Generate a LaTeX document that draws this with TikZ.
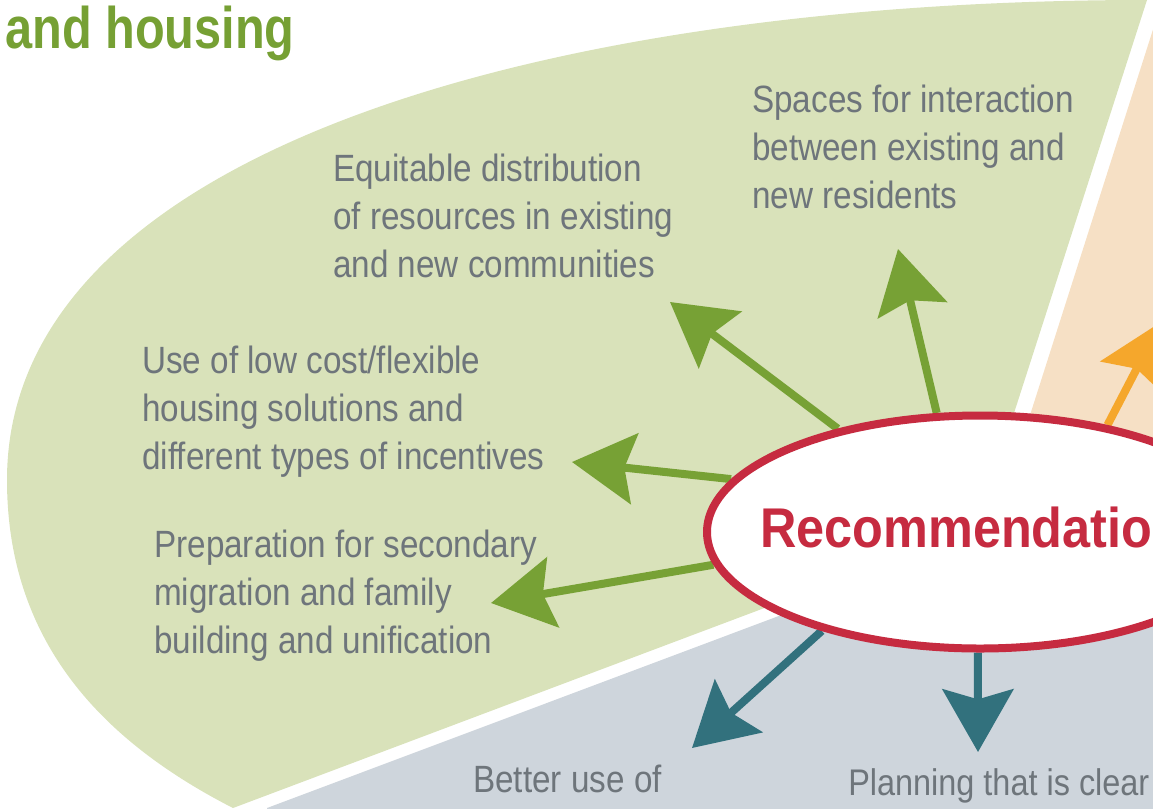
\documentclass[tikz,border=0pt]{standalone}
\usepackage{fontspec}
\usetikzlibrary{arrows.meta,shapes.geometric}
\newfontfamily\bodyf[FakeStretch=0.875]{Liberation Sans}
\newfontfamily\headf[FakeStretch=0.83]{Liberation Sans Bold}
\newfontfamily\recf[FakeStretch=0.9]{Liberation Sans Bold}
\definecolor{lgreen}{HTML}{D9E2BA}
\definecolor{lorange}{HTML}{F6E0C5}
\definecolor{lgray}{HTML}{CED5DC}
\definecolor{agreen}{HTML}{77A135}
\definecolor{ateal}{HTML}{32717D}
\definecolor{aorange}{HTML}{F5A72C}
\definecolor{ered}{HTML}{C62B40}
\definecolor{tgray}{HTML}{6E757B}
\definecolor{tgreen}{HTML}{76A034}
\pgfdeclarelayer{bg}
\pgfdeclarelayer{arr}
\pgfsetlayers{bg,arr,main}
\begin{document}
\begin{tikzpicture}[x=0.75pt,y=-0.75pt,
  headtip/.style={-{Stealth[length=47pt,width=53pt,inset=7.5pt]}},
  garrow/.style={draw=agreen,fill=agreen,line width=6pt,headtip},
  tarrow/.style={draw=ateal,fill=ateal,line width=6pt,headtip},
  oarrow/.style={draw=aorange,fill=aorange,line width=6pt,headtip},
  txt/.style={anchor=north west,inner sep=0pt,align=left,text=tgray,font=\bodyf\fontsize{28.5}{36}\selectfont}]
\useasboundingbox (0,0) rectangle (1153,808);
\node[ellipse,draw=ered,line width=6pt,fill=white,minimum width=409.5pt,minimum height=174.75pt,inner sep=0pt] (ell) at (980,532) {};
\node[anchor=base west,inner sep=0pt,text=ered,font=\recf\fontsize{42}{50}\selectfont] (rec) at (760,547) {Recommendatio};
\node[anchor=base west,inner sep=0pt,text=tgreen,font=\headf\fontsize{44}{52}\selectfont] (title) at (5,48) {and housing};
\coordinate (tSp) at (898,249);
\coordinate (tEq) at (670,302);
\coordinate (tUse) at (572,462);
\coordinate (tPrep) at (491,603);
\coordinate (tBet) at (692,748);
\coordinate (tPlan) at (978,752);
\coordinate (tOr) at (1161,322);
\begin{pgfonlayer}{bg}
\clip (0,0) rectangle (1153,808);
\fill[lgreen] (1147,0) .. controls (550,0) and (7,150) .. (7,480)
  .. controls (7,640) and (100,740) .. (233,808) -- (977,528) -- cycle;
\fill[lorange] (1164,-5) -- (994,528) -- (1170,600) -- (1170,-5) -- cycle;
\fill[lgray] (267,808) -- (1000,533) -- (1170,560) -- (1170,820) -- (267,820) -- cycle;
\end{pgfonlayer}
\begin{pgfonlayer}{arr}
\clip (0,0) rectangle (1153,808);
\draw[garrow] (ell.110) -- (tSp);
\draw[garrow] (ell.144) -- (tEq);
\draw[garrow] (ell.168.8) -- (tUse);
\draw[garrow] (ell.187.7) -- (tPrep);
\draw[tarrow] (ell.212) -- (tBet);
\draw[tarrow] (ell.269) -- (tPlan);
\draw[oarrow] (ell.40.6) -- (tOr);
\end{pgfonlayer}
\node[txt] (sp) at (752,85) {Spaces for interaction\\between existing and\\new residents};
\node[txt] (eq) at (333,154) {Equitable distribution\\of resources in existing\\and new communities};
\node[txt] (use) at (142,346) {Use of low cost/flexible\\housing solutions and\\different types of incentives};
\node[txt] (prep) at (154,530) {Preparation for secondary\\migration and family\\building and unification};
\node[txt] (bet) at (473,765) {Better use of};
\node[txt,font=\bodyf\fontsize{27.8}{36}\selectfont] (plan) at (848,768) {Planning that is clear};
\end{tikzpicture}
\end{document}
